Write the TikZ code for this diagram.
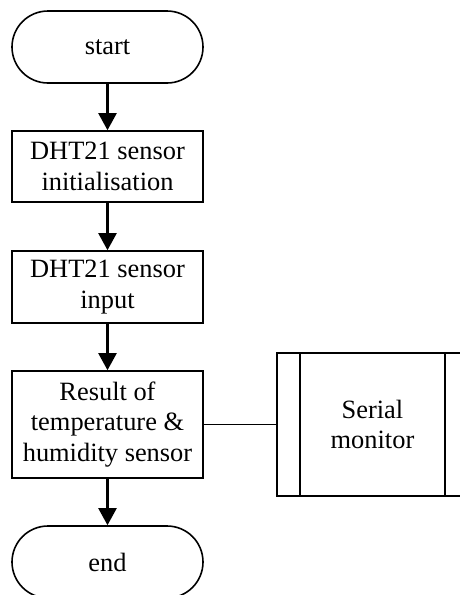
\documentclass[tikz,border=0pt]{standalone}
\usepackage{fontspec}
\setmainfont{Liberation Serif}
\usetikzlibrary{arrows.meta}
\begin{document}
\begin{tikzpicture}[x=1pt,y=-1pt,
  every node/.style={font=\fontsize{26.4}{30.4}\selectfont, align=center, inner sep=0pt},
  boxstyle/.style={draw, line width=1.6pt, minimum width=191pt},
  term/.style={draw, line width=1.6pt, minimum width=191pt, minimum height=72pt, rounded corners=36pt},
  flow/.style={line width=2.2pt, -{Triangle[length=17pt,width=18pt]}},
  link/.style={line width=1.6pt}]
\useasboundingbox (0,0) rectangle (460,595);
\begin{scope}
\clip (0,0) rectangle (460,595);
\node[term] (start) at (107.5,47) {start};
\node[boxstyle, minimum height=71pt] (init) at (107.5,166.5) {DHT21 sensor\\initialisation};
\node[boxstyle, minimum height=72pt] (input) at (107.5,287) {DHT21 sensor\\input};
\node[boxstyle, minimum height=107pt] (result) at (107.5,424.5) {Result of\\temperature \&\\humidity sensor};
\node[term] (end) at (107.5,562) {end};
\node[boxstyle, minimum height=143pt] (serial) at (372.5,424.5) {Serial\\monitor};
\draw[link] ([xshift=24pt]serial.north west) -- ([xshift=24pt]serial.south west);
\draw[link] ([xshift=-24pt]serial.north east) -- ([xshift=-24pt]serial.south east);
\draw[flow] (start) -- (init);
\draw[flow] (init) -- (input);
\draw[flow] (input) -- (result);
\draw[flow] (result) -- (end);
\draw[link] (result) -- (serial);
\end{scope}
\end{tikzpicture}
\end{document}
